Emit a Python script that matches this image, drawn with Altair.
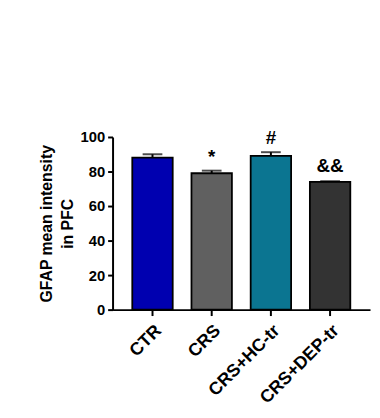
import altair as alt
import pandas as pd

groups = ["CTR", "CRS", "CRS+HC-tr", "CRS+DEP-tr"]
means = [88, 79, 89, 74]
errs = [2.0, 1.5, 2.2, 0.4]
colors = ["#0000B0", "#606060", "#0B7591", "#333333"]
sig_marks = ["", "*", "#", "&&"]
sig_y = [0, 88.2, 99.6, 83.2]
y_ticks = [0, 20, 40, 60, 80, 100]

df = pd.DataFrame({"group": groups, "mean": means, "err": errs,
                   "sig": sig_marks, "sig_y": sig_y})
df["hi"] = df["mean"] + df["err"]

FONT = "Liberation Sans"
yscale = alt.Scale(domain=[0, 100], nice=False)
yaxis = alt.Axis(title=["GFAP mean intensity", "in PFC"],
                 values=y_ticks, grid=False,
                 titleFontSize=16,
                 titleFontWeight="bold", titleColor="black",
                 titleFont=FONT, titlePadding=5, titleLineHeight=21,
                 labelFontSize=15, labelFontWeight="bold",
                 labelColor="black", labelFont=FONT,
                 labelOverlap=False, labelBound=False,
                 domainColor="black", domainWidth=2,
                 tickColor="black", tickWidth=2, tickSize=5,
                 labelPadding=3)
xaxis = alt.Axis(title=None, labelAngle=-45, labelFontSize=18,
                 labelFontWeight="bold", labelColor="black",
                 labelFont=FONT, domainColor="black", domainWidth=2,
                 tickColor="black", tickWidth=2, tickSize=6,
                 labelPadding=6, labelOverlap=False)
xscale = alt.Scale(paddingInner=0.317, paddingOuter=0.333)


def X():
    return alt.X("group:N", sort=groups, scale=xscale, axis=xaxis)


bars = alt.Chart(df).mark_bar(stroke="black", strokeWidth=1.8).encode(
    x=X(),
    y=alt.Y("mean:Q", scale=yscale, axis=yaxis),
    color=alt.Color("group:N", sort=groups,
                    scale=alt.Scale(domain=groups, range=colors), legend=None),
)

rule = alt.Chart(df).mark_rule(color="black", strokeWidth=2).encode(
    x=X(), y=alt.Y("mean:Q", scale=yscale, axis=yaxis), y2="hi:Q")

cap = alt.Chart(df).mark_tick(color="black", thickness=2, size=20).encode(
    x=X(), y=alt.Y("hi:Q", scale=yscale, axis=yaxis))

txt = alt.Chart(df).transform_filter("datum.sig != ''").mark_text(
    fontSize=19, fontWeight="bold", font=FONT, color="black",
    baseline="middle").encode(
    x=X(), y=alt.Y("sig_y:Q", scale=yscale, axis=yaxis), text="sig:N")

chart = alt.layer(bars, rule, cap, txt).properties(
    width=261, height=175,
    autosize=alt.AutoSizeParams(type="none"),
    padding={"left": 106, "top": 128, "right": 2, "bottom": 100},
).configure_view(stroke=None)

chart.save("out.html", embed_options={"renderer": "svg", "actions": False})
